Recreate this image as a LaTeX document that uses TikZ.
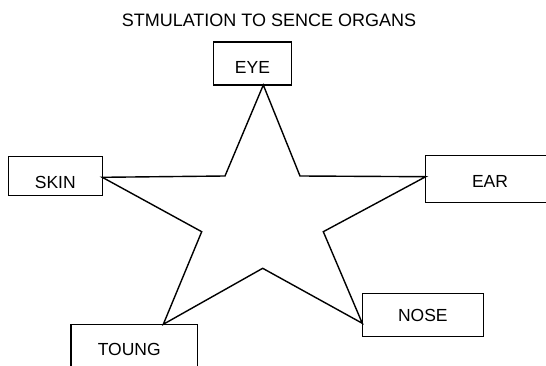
\documentclass[tikz,border=0pt]{standalone}
\usepackage{fontspec}
\setmainfont{Liberation Sans}
\begin{document}
\begin{tikzpicture}[x=1pt,y=-1pt,
  organbox/.style={draw, line width=1.4pt, inner sep=0pt, text depth=0pt,
    font=\fontsize{17.5}{20}\selectfont},
  titletext/.style={inner sep=0pt, font=\fontsize{18}{21}\selectfont},
  starline/.style={line width=1.4pt, line join=miter}]
\useasboundingbox (0,0) rectangle (546,366);
\node[titletext] (title) at (269,20) {STMULATION TO SENCE ORGANS};
\node[organbox, minimum width=78.4pt, minimum height=43pt, text height=19.5pt] (eye) at (252.5,63.5) {EYE};
\node[organbox, minimum width=94pt, minimum height=39pt, text height=24.5pt] (skin) at (55.3,176.2) {SKIN};
\node[organbox, minimum width=128.6pt, minimum height=46.6pt, text height=17.9pt] (ear) at (490,179) {EAR};
\node[organbox, minimum width=121pt, minimum height=43.4pt, text height=12.5pt] (nose) at (422.8,315) {NOSE};
\node[organbox, minimum width=126.3pt, minimum height=48pt, text height=14.5pt] (toung) at (134.2,348.3) {TOUNG\hspace*{10pt}};
% star outer points
\coordinate (ptop) at (263.3,85);
\coordinate (pright) at (425.7,176.7);
\coordinate (plr) at (362.3,323.3);
\coordinate (pll) at (163.3,324.3);
\coordinate (pleft) at (102.3,177.3);
% star inner points
\coordinate (itr) at (300,176);
\coordinate (ir) at (323.3,231.7);
\coordinate (ib) at (262.7,268.3);
\coordinate (il) at (201.7,231.7);
\coordinate (itl) at (225,176);
\draw[starline] (ptop) -- (itr) -- (pright) -- (ir) -- (plr) -- (ib) -- (pll) -- (il) -- (pleft) -- (itl) -- cycle;
\end{tikzpicture}
\end{document}
